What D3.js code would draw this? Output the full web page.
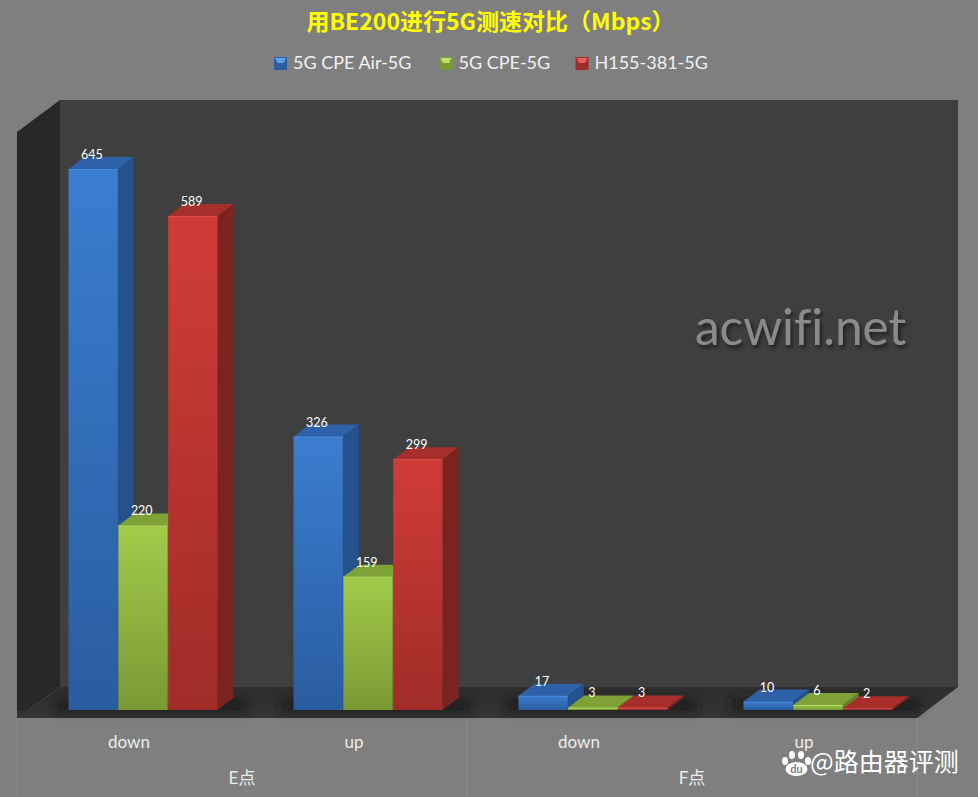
<!DOCTYPE html>
<html><head><meta charset="utf-8">
<script src="https://cdn.jsdelivr.net/npm/d3@7/dist/d3.min.js"></script>
<style>html,body{margin:0;padding:0;background:#7f7f7f;overflow:hidden}svg{display:block}</style>
</head><body><svg id="c" width="978" height="797"></svg>
<script>
const titleText = "用BE200进行5G测速对比（Mbps）";
const groups = ["E点","F点"];
const categories = ["E-down","E-up","F-down","F-up"];
const tickLabels = ["down","up","down","up"];
const seriesNames = ["5G CPE Air-5G","5G CPE-5G","H155-381-5G"];
const airValues = [645,326,17,10];
const cpeValues = [220,159,3,6];
const h155Values = [589,299,3,2];
const allSeries = [airValues,cpeValues,h155Values];

const colors = [
 {top:"#3b7dd0",bot:"#2a5d9f",side:"#25528c",cap:"#2d62a8",hi:"#4a8bd8",sw:"#5f9fe6"},
 {top:"#a2cb4a",bot:"#799a34",side:"#66822b",cap:"#7ea236",hi:"#b0d65c",sw:"#bde06a"},
 {top:"#d03c38",bot:"#a02c28",side:"#7b231f",cap:"#a72f2b",hi:"#dc4f4a",sw:"#e6605c"}
];
const LX=17,RX=917,BACKDX=43,BACKDY=-31,Y0=718,BASE=710,BACKTOP=100;
const svg=d3.select("#c");
svg.append("rect").attr("width",978).attr("height",797).attr("fill","#7f7f7f");
const defs=svg.append("defs");
colors.forEach((c,i)=>{
 const g=defs.append("linearGradient").attr("id","f"+i).attr("x1",0).attr("y1",0).attr("x2",0).attr("y2",1);
 g.append("stop").attr("offset",0).attr("stop-color",c.top);
 g.append("stop").attr("offset",1).attr("stop-color",c.bot);
});
const fg=defs.append("linearGradient").attr("id","floor").attr("x1",0).attr("y1",0).attr("x2",0).attr("y2",1);
fg.append("stop").attr("offset",0).attr("stop-color","#2e2e2e");
fg.append("stop").attr("offset",1).attr("stop-color","#333333");
defs.append("filter").attr("id","blur").attr("x","-20%").attr("y","-100%").attr("width","140%").attr("height","300%")
 .append("feGaussianBlur").attr("stdDeviation",4);
const ws=defs.append("filter").attr("id","wmshadow").attr("x","-10%").attr("y","-20%").attr("width","120%").attr("height","150%");
ws.append("feDropShadow").attr("dx",2).attr("dy",3).attr("stdDeviation",2).attr("flood-color","#000").attr("flood-opacity",.55);

const x=d3.scaleBand().domain(categories).range([LX,RX]);
const y=d3.scaleLinear().domain([0,645]).range([BASE,169]);
const BAR_OFF=51.5, GROUP_W=149.5, DX=16, DY=-12;
const x1=d3.scaleBand().domain(d3.range(3)).range([0,GROUP_W]);
const pts=a=>a.map(p=>p.join(",")).join(" ");

// walls and floor
svg.append("polygon").attr("points",pts([[LX+BACKDX,BACKTOP],[958,BACKTOP],[958,Y0+BACKDY],[LX+BACKDX,Y0+BACKDY]])).attr("fill","#3f3f3f");
svg.append("polygon").attr("points",pts([[LX,132],[LX+BACKDX,BACKTOP],[LX+BACKDX,Y0+BACKDY],[LX,Y0]])).attr("fill","#282828");
svg.append("polygon").attr("points",pts([[LX,Y0],[LX+BACKDX,Y0+BACKDY],[958,Y0+BACKDY],[RX,Y0]])).attr("fill","url(#floor)");
svg.append("rect").attr("x",LX).attr("y",BASE+1).attr("width",RX-LX).attr("height",Y0-BASE-1).attr("fill","#333333");

// floor shadows
svg.append("g").selectAll("rect").data(categories).join("rect")
 .attr("x",d=>x(d)+BAR_OFF-12).attr("y",BASE-12).attr("width",GROUP_W+DX+24).attr("height",14)
 .attr("fill","#1c1c1c").attr("opacity",.85).attr("filter","url(#blur)");

// bars
const layer=svg.append("g");
categories.forEach((cat,ci)=>{
 allSeries.forEach((vals,si)=>{
  const c=colors[si], xl=x(cat)+BAR_OFF+x1(si), w=x1.bandwidth()-0.5, t=y(vals[ci]), xr=xl+w;
  const g=layer.append("g");
  g.append("polygon").attr("points",pts([[xr,t],[xr+DX,t+DY],[xr+DX,BASE+DY],[xr,BASE]])).attr("fill",c.side);
  g.append("polygon").attr("points",pts([[xl,t],[xl+DX,t+DY],[xr+DX,t+DY],[xr,t]])).attr("fill",c.cap);
  g.append("rect").attr("x",xl).attr("y",t).attr("width",w).attr("height",BASE-t).attr("fill",`url(#f${si})`);
  g.append("rect").attr("x",xl).attr("y",t).attr("width",w).attr("height",1).attr("fill",c.hi);
  g.append("rect").attr("x",xl).attr("y",BASE-1).attr("width",w).attr("height",1).attr("fill",c.bot).attr("opacity",.8);
 });
});
// data labels
const lab=svg.append("g").attr("font-family","Lato, 'Open Sans', sans-serif").attr("font-size",12.5).attr("fill","#fff").attr("text-anchor","middle");
categories.forEach((cat,ci)=>{
 allSeries.forEach((vals,si)=>{
  lab.append("text").attr("x",x(cat)+BAR_OFF+x1(si)+x1.bandwidth()/2-1.5).attr("y",y(vals[ci])-10).text(vals[ci]);
 });
});

// axis labels
const ax=svg.append("g").attr("font-family","Lato, 'Noto Sans CJK SC', sans-serif").attr("fill","#ececec").attr("text-anchor","middle");
categories.forEach((cat,i)=>{
 ax.append("text").attr("x",x(cat)+x.bandwidth()/2-0.5).attr("y",748).attr("font-size",17).text(tickLabels[i]);
});
groups.forEach((g,i)=>{
 const a=x(categories[i*2]), b=a+2*x.step();
 ax.append("text").attr("x",(a+b)/2).attr("y",784).attr("font-size",17).text(g);
});
svg.append("g").selectAll("line").data([x(categories[0]),x(categories[2]),RX]).join("line")
 .attr("x1",d=>d).attr("x2",d=>d).attr("y1",Y0).attr("y2",797).attr("stroke","#8e8e8e").attr("stroke-width",1);

// title
svg.append("text").attr("x",490.5).attr("y",30).attr("text-anchor","middle").attr("fill","#ffff00")
 .attr("font-family","'Noto Sans CJK SC', sans-serif").attr("font-weight",700).attr("font-size",23).text(titleText);

// legend
const legX=[274,439.5,575.5];
const leg=svg.append("g");
seriesNames.forEach((n,i)=>{
 const c=colors[i], lx=legX[i];
 leg.append("rect").attr("x",lx).attr("y",57).attr("width",13).attr("height",13).attr("fill",c.bot);
 leg.append("polygon").attr("points",pts([[lx+1,58],[lx+12,58],[lx+9.5,63],[lx+3.5,63]])).attr("fill",c.sw);
 leg.append("text").attr("x",lx+19).attr("y",69).attr("fill","#f2f2f2").attr("font-family","Lato, sans-serif").attr("font-size",18).text(n);
});

// watermarks
svg.append("text").attr("x",695).attr("y",345).attr("fill","#8a8a8a").attr("filter","url(#wmshadow)")
 .attr("font-family","Lato, sans-serif").attr("font-size",49.5).style("font-variant-ligatures","none").text("acwifi.net");

const logo=svg.append("g").attr("fill","#fff");
[[785,761,3,4],[792,755,3,4],[801,755,3,4],[808,761,3,4]].forEach(d=>
 logo.append("ellipse").attr("cx",d[0]).attr("cy",d[1]).attr("rx",d[2]).attr("ry",d[3]));
logo.append("ellipse").attr("cx",796.5).attr("cy",769).attr("rx",11).attr("ry",7);
logo.append("text").attr("x",796.5).attr("y",773).attr("text-anchor","middle").attr("fill","#7f7f7f")
 .attr("font-family","Lato, sans-serif").attr("font-weight",700).attr("font-size",11).text("du");
svg.append("text").attr("x",810).attr("y",771).attr("fill","#fff")
 .attr("font-family","'Noto Sans CJK SC', sans-serif").attr("font-size",25).text("@路由器评测");
</script></body></html>
